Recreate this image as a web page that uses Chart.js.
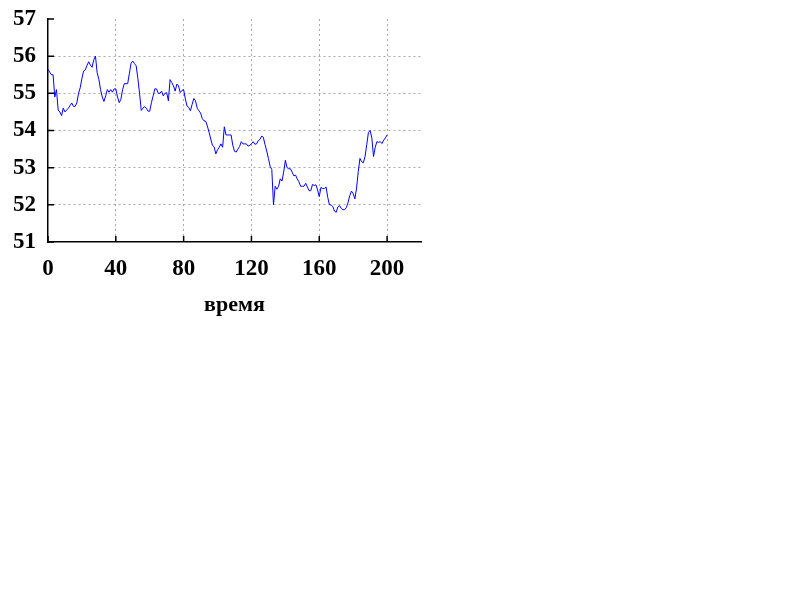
<!DOCTYPE html>
<html>
<head>
<meta charset="utf-8">
<script src="https://cdn.jsdelivr.net/npm/chart.js@4"></script>
<style>
  html, body { margin: 0; padding: 0; background: #ffffff; }
  #wrap { position: absolute; left: 0; top: 0; width: 430px; height: 330px; }
</style>
</head>
<body>
<div id="wrap"><canvas id="c"></canvas></div>
<script>
// ---- data ----
const xTitle = "время";
const xTickValues = [0, 40, 80, 120, 160, 200];
const yTickValues = [51, 52, 53, 54, 55, 56, 57];
const values = [
  55.65, 55.57, 55.5, 55.5, 54.9, 55.1, 54.55, 54.5, 54.4, 54.6,
  54.5, 54.55, 54.6, 54.67, 54.74, 54.65, 54.65, 54.74, 55.0, 55.15,
  55.4, 55.6, 55.63, 55.75, 55.85, 55.76, 55.7, 55.9, 56.0, 55.55,
  55.38, 55.1, 54.9, 54.78, 54.93, 55.1, 55.03, 55.1, 55.03, 55.12,
  55.12, 54.9, 54.75, 54.84, 55.1, 55.26, 55.26, 55.26, 55.54, 55.81,
  55.87, 55.8, 55.74, 55.4, 55.0, 54.54, 54.6, 54.64, 54.6, 54.52,
  54.52, 54.75, 54.93, 55.12, 55.12, 55.0, 55.0, 55.06, 54.93, 55.0,
  55.02, 54.8, 55.37, 55.29, 55.2, 55.06, 55.25, 55.2, 55.02, 55.08,
  55.1, 54.85, 54.66, 54.62, 54.53, 54.7, 54.86, 54.8, 54.6, 54.53,
  54.47, 54.32, 54.26, 54.25, 54.12, 53.95, 53.77, 53.6, 53.56, 53.37,
  53.48, 53.55, 53.64, 53.55, 54.1, 53.88, 53.88, 53.88, 53.88, 53.6,
  53.44, 53.42, 53.5, 53.57, 53.7, 53.64, 53.64, 53.64, 53.58, 53.6,
  53.64, 53.7, 53.63, 53.64, 53.73, 53.76, 53.85, 53.82, 53.62, 53.45,
  53.25, 53.04, 52.95, 52.0, 52.5, 52.42, 52.5, 52.7, 52.64, 52.88,
  53.2, 53.0, 52.97, 52.97, 52.88, 52.78, 52.8, 52.7, 52.62, 52.5,
  52.5, 52.5, 52.58, 52.48, 52.38, 52.38, 52.55, 52.52, 52.54, 52.4,
  52.22, 52.47, 52.44, 52.44, 52.48, 52.2, 52.0, 52.0, 51.95, 51.83,
  51.8, 51.95, 51.98, 51.9, 51.87, 51.87, 51.93, 52.07, 52.25, 52.37,
  52.3, 52.16, 52.45, 52.9, 53.25, 53.16, 53.13, 53.3, 53.62, 53.95,
  54.0, 53.8, 53.3, 53.55, 53.7, 53.68, 53.7, 53.65, 53.74, 53.8,
  53.88
];
const times = values.map((v, i) => i);

const fontFamily = "'Liberation Serif', 'Times New Roman', serif";

const innerTicks = {
  id: 'innerTicks',
  afterDatasetsDraw(chart) {
    const ctx = chart.ctx;
    const a = chart.chartArea;
    const xs = chart.scales.x, ys = chart.scales.y;
    ctx.save();
    ctx.strokeStyle = '#000000';
    ctx.lineWidth = 1.5;
    ctx.beginPath();
    xs.ticks.forEach(t => {
      const px = xs.getPixelForValue(t.value);
      ctx.moveTo(px, a.bottom);
      ctx.lineTo(px, a.bottom - 6);
    });
    ys.ticks.forEach(t => {
      const py = ys.getPixelForValue(t.value);
      ctx.moveTo(a.left, py);
      ctx.lineTo(a.left + 6, py);
    });
    ctx.stroke();
    ctx.restore();
  }
};

new Chart(document.getElementById('c'), {
  type: 'line',
  data: {
    datasets: [{
      data: times.map((t, i) => ({ x: t, y: values[i] })),
      borderColor: '#0000ff',
      borderWidth: 1,
      pointRadius: 0,
      tension: 0,
      fill: false
    }]
  },
  options: {
    responsive: true,
    maintainAspectRatio: false,
    animation: false,
    devicePixelRatio: 1,
    layout: { padding: { top: 19, right: 9, left: 0, bottom: 0 } },
    plugins: { legend: { display: false }, tooltip: { enabled: false } },
    scales: {
      x: {
        type: 'linear',
        min: 0, max: 220,
        afterBuildTicks: s => { s.ticks = xTickValues.map(v => ({ value: v })); },
        afterFit: s => { s.height = 88; s.paddingLeft = 0; s.paddingRight = 0; },
        grid: {
          drawTicks: false,
          color: c => (c.tick && c.tick.value === 0) ? 'rgba(0,0,0,0)' : '#a8a8a8',
          lineWidth: 1
        },
        border: { display: true, color: '#000000', width: 1.5, dash: [2, 3] },
        ticks: {
          padding: 13,
          maxRotation: 0,
          color: '#000000',
          font: { family: fontFamily, size: 23, weight: 'bold' }
        },
        title: {
          display: true,
          text: xTitle,
          color: '#000000',
          font: { family: fontFamily, size: 22, weight: 'bold' },
          padding: { top: 0, bottom: 11 }
        }
      },
      y: {
        type: 'linear',
        min: 51, max: 57,
        afterBuildTicks: s => { s.ticks = yTickValues.map(v => ({ value: v })); },
        afterFit: s => { s.width = 48; s.paddingTop = 0; s.paddingBottom = 0; },
        grid: {
          drawTicks: false,
          color: c => (c.tick && (c.tick.value === 51 || c.tick.value === 57)) ? 'rgba(0,0,0,0)' : '#a8a8a8',
          lineWidth: 1
        },
        border: { display: true, color: '#000000', width: 1.5, dash: [2, 3] },
        ticks: {
          padding: 12,
          color: '#000000',
          font: { family: fontFamily, size: 23, weight: 'bold' }
        }
      }
    }
  },
  plugins: [innerTicks]
});
</script>
</body>
</html>
